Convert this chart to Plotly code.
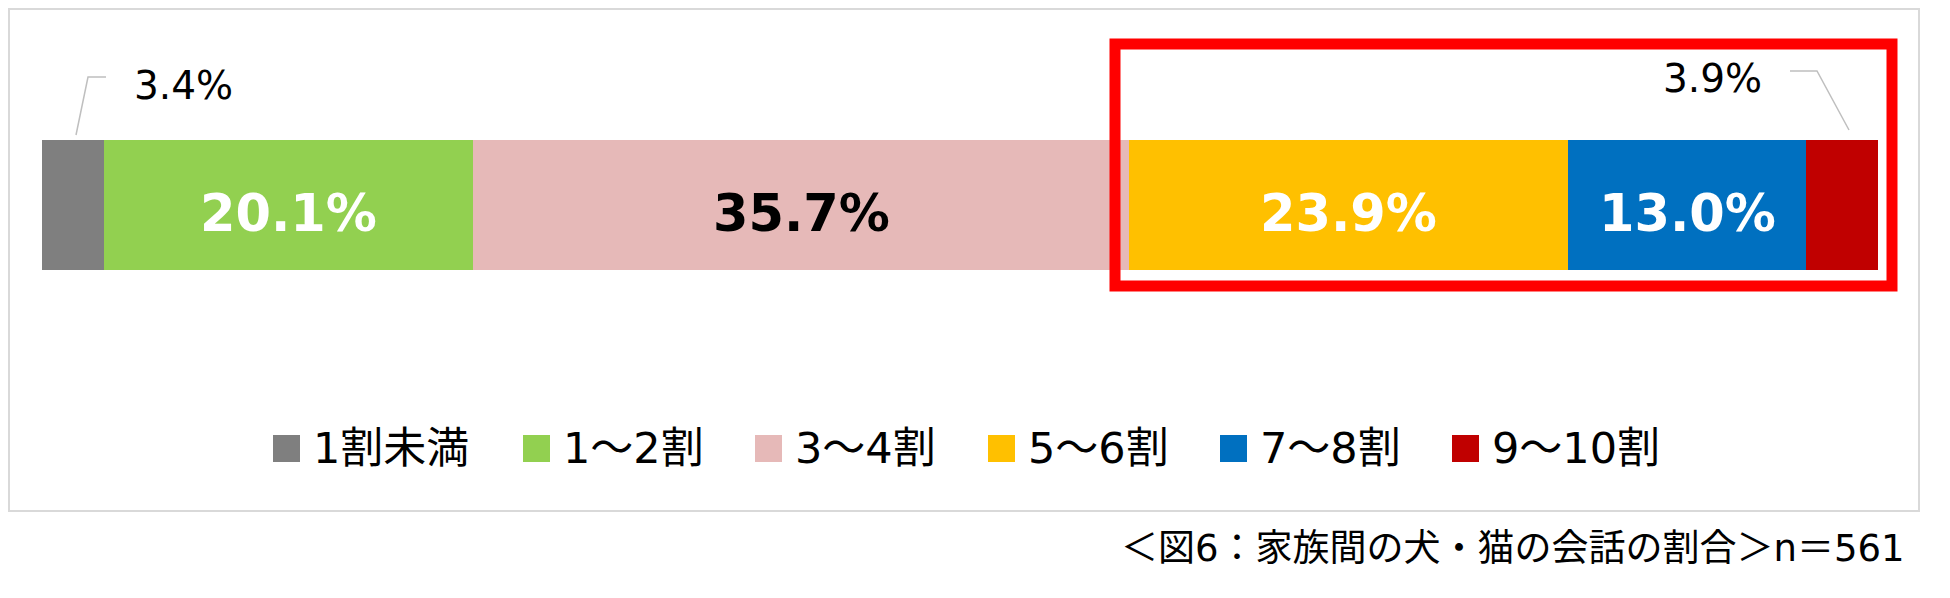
import plotly.graph_objects as go

# data
categories = ["1割未満", "1〜2割", "3〜4割", "5〜6割", "7〜8割", "9〜10割"]
values = [3.4, 20.1, 35.7, 23.9, 13.0, 3.9]
colors = ["#7F7F7F", "#92D050", "#E6B9B8", "#FFC000", "#0070C0", "#C00000"]
caption = "＜図6：家族間の犬・猫の会話の割合＞n＝561"

# which segments get their label inside the bar, and in which colour
inside_font = ["", "white", "black", "white", "white", ""]

# page geometry in pixels (page coords; the plot div sits 8px in from the page edge)
W, H = 1950, 598
OFF = 8
BAR_L, BAR_R = 42, 1878
BAR_T, BAR_B = 140, 270
FONT = "DejaVu Sans, Noto Sans CJK JP, sans-serif"


def px(x):
    return (x - OFF) / W


def py(y):
    return 1 - (y - OFF) / H


scale = (BAR_R - BAR_L) / 100
x_range = [-(BAR_L - OFF) / scale, 100 + (W - (BAR_R - OFF)) / scale]
unit = BAR_B - BAR_T
y_hi = 0.5 + (BAR_T - OFF) / unit
y_range = [y_hi - H / unit, y_hi]

fig = go.Figure()
shapes = []
annotations = []

start = 0
for cat, v, c, tc in zip(categories, values, colors, inside_font):
    fig.add_trace(go.Bar(
        x=[v], y=[0], width=1, orientation="h", name=cat,
        marker=dict(color=c, line=dict(width=0)),
        showlegend=False, hoverinfo="skip",
    ))
    if tc:
        # label centred on the segment, sitting a little low like the original
        annotations.append(dict(xref="x", yref="y", x=start + v / 2, y=0, yshift=-8,
                                text=f"<b>{v:.1f}%</b>", showarrow=False,
                                xanchor="center", yanchor="middle",
                                font=dict(family="DejaVu Sans", size=51, color=tc)))
    start += v

# chart frame (left/top edges kept just inside the canvas)
shapes.append(dict(type="rect", xref="paper", yref="paper",
                   x0=px(OFF + 1), x1=px(1919), y0=py(OFF + 1), y1=py(511),
                   line=dict(color="#D9D9D9", width=2), layer="below"))

# red highlight box around the upper segments
shapes.append(dict(type="rect", xref="paper", yref="paper",
                   x0=px(1115), x1=px(1892), y0=py(44), y1=py(286),
                   line=dict(color="#FF0000", width=11)))

# outside labels for the two thin segments, with leader lines
out_labels = [(0, 183, 85, [(76, 135), (88, 77), (106, 77)]),
              (5, 1712, 78, [(1790, 71), (1817, 71), (1849, 130)])]
for i, lx, ly, pts in out_labels:
    annotations.append(dict(xref="paper", yref="paper", x=px(lx), y=py(ly),
                            text=f"{values[i]:.1f}%", showarrow=False,
                            xanchor="center", yanchor="middle",
                            font=dict(family="DejaVu Sans", size=39, color="black")))
    path = "M " + " L ".join(f"{px(a)},{py(b)}" for a, b in pts)
    shapes.append(dict(type="path", xref="paper", yref="paper", path=path,
                       line=dict(color="#BFBFBF", width=1.5)))

# legend drawn by hand so the swatches match the reference size
legend_x = [273, 523, 755, 988, 1220, 1452]
for cat, c, lx in zip(categories, colors, legend_x):
    shapes.append(dict(type="rect", xref="paper", yref="paper",
                       x0=px(lx), x1=px(lx + 27), y0=py(435), y1=py(462),
                       fillcolor=c, line=dict(width=0)))
    annotations.append(dict(xref="paper", yref="paper", x=px(lx + 38), y=py(448),
                            text=cat, showarrow=False, xanchor="left", yanchor="middle",
                            font=dict(family=FONT, size=43, color="black")))

annotations.append(dict(xref="paper", yref="paper", x=px(1907), y=py(548),
                        text=caption, showarrow=False, xanchor="right", yanchor="middle",
                        font=dict(family=FONT, size=37, color="black")))

fig.update_layout(
    barmode="stack",
    width=W, height=H, autosize=False,
    margin=dict(l=0, r=0, t=0, b=0, pad=0),
    paper_bgcolor="white", plot_bgcolor="white",
    xaxis=dict(range=x_range, visible=False, fixedrange=True),
    yaxis=dict(range=y_range, visible=False, fixedrange=True),
    shapes=shapes, annotations=annotations,
    showlegend=False,
)

fig.write_html("out.html")
